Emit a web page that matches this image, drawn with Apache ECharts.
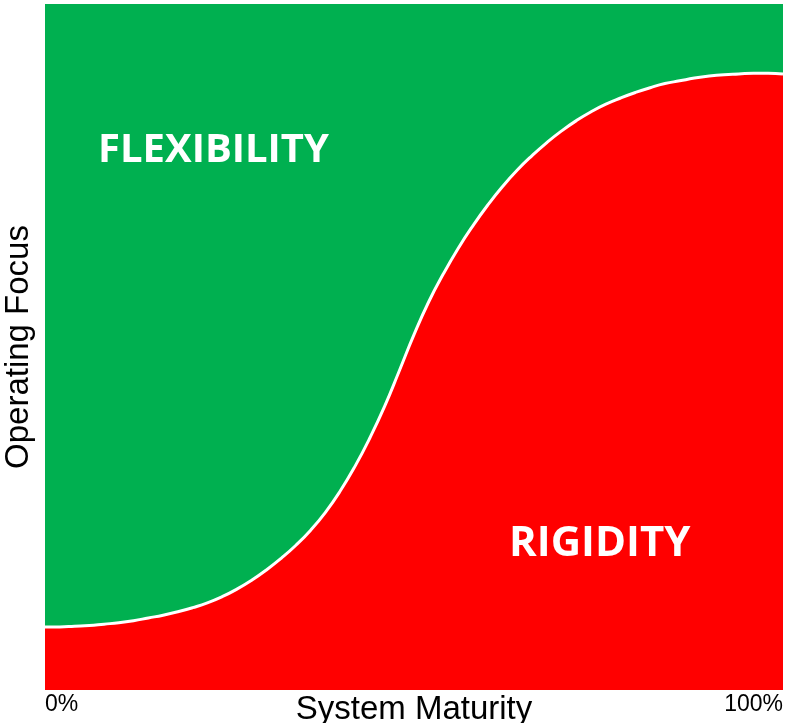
<!DOCTYPE html>
<html>
<head>
<meta charset="utf-8">
<script src="https://cdn.jsdelivr.net/npm/echarts@6/dist/echarts.min.js"></script>
<style>
  html, body { margin: 0; padding: 0; background: #fff; }
  #chart { width: 795px; height: 723px; }
</style>
</head>
<body>
<div id="chart"></div>
<script>
// --- Data ---
const maturity = [0, 2, 4, 6, 8, 10, 12, 14, 16, 18, 20, 22, 24, 26, 28, 30, 32, 34, 36, 38, 40, 42, 44, 46, 48, 50,
    52, 54, 56, 58, 60, 62, 64, 66, 68, 70, 72, 74, 76, 78, 80, 82, 84, 86, 88, 90, 92, 94, 96, 98, 100];
const rigidity = [9.2, 9.2, 9.3, 9.4, 9.6, 9.8, 10.1, 10.5, 10.9, 11.4, 12.0, 12.7, 13.6, 14.7, 16.0, 17.5, 19.2, 21.1, 23.3, 25.9, 29.0, 32.6, 36.7, 41.3, 46.5, 51.8,
    56.6, 60.7, 64.4, 67.7, 70.7, 73.4, 75.8, 77.9, 79.8, 81.5, 83.0, 84.3, 85.4, 86.3, 87.1, 87.8, 88.4, 88.8, 89.2, 89.5, 89.7, 89.8, 89.9, 89.9, 89.8];
const xTicks = [0, 100];
const regionLabels = ['FLEXIBILITY', 'RIGIDITY'];

const chart = echarts.init(document.getElementById('chart'));

chart.setOption({
    animation: false,
    grid: {
        left: 45, right: 12, top: 4, bottom: 33,
        outerBoundsMode: 'none',
        containLabel: false,
        show: true,
        backgroundColor: '#00b050',
        borderWidth: 0
    },
    xAxis: {
        type: 'value',
        min: xTicks[0],
        max: xTicks[1],
        interval: xTicks[1] - xTicks[0],
        name: 'System Maturity',
        nameLocation: 'middle',
        nameGap: 3,
        nameMoveOverlap: false,
        nameTextStyle: {
            fontFamily: 'Liberation Sans',
            fontSize: 33,
            color: '#000',
            verticalAlign: 'top'
        },
        axisLine: { show: false },
        axisTick: { show: false },
        splitLine: { show: false },
        axisLabel: {
            formatter: '{value}%',
            fontFamily: 'Liberation Sans',
            fontSize: 23,
            color: '#000',
            margin: 3,
            alignMinLabel: 'left',
            alignMaxLabel: 'right'
        }
    },
    yAxis: {
        type: 'value',
        min: 0,
        max: 100,
        name: 'Operating Focus',
        nameLocation: 'middle',
        nameGap: 10,
        nameTextStyle: {
            fontFamily: 'Liberation Sans',
            fontSize: 33,
            color: '#000'
        },
        axisLine: { show: false },
        axisTick: { show: false },
        splitLine: { show: false },
        axisLabel: { show: false }
    },
    graphic: [
        {
            type: 'text',
            z: 100,
            left: 98, top: 131,
            style: {
                text: regionLabels[0],
                fill: '#fff',
                font: 'bold 40px "Open Sans"'
            }
        },
        {
            type: 'text',
            z: 100,
            left: 509, top: 523,
            style: {
                text: regionLabels[1],
                fill: '#fff',
                font: 'bold 42px "Open Sans"'
            }
        }
    ],
    series: [{
        type: 'line',
        data: maturity.map((m, i) => [m, rigidity[i]]),
        smooth: 0.5,
        showSymbol: false,
        lineStyle: { color: '#fff', width: 3 },
        areaStyle: { color: '#ff0000', opacity: 1 }
    }]
});
</script>
</body>
</html>
